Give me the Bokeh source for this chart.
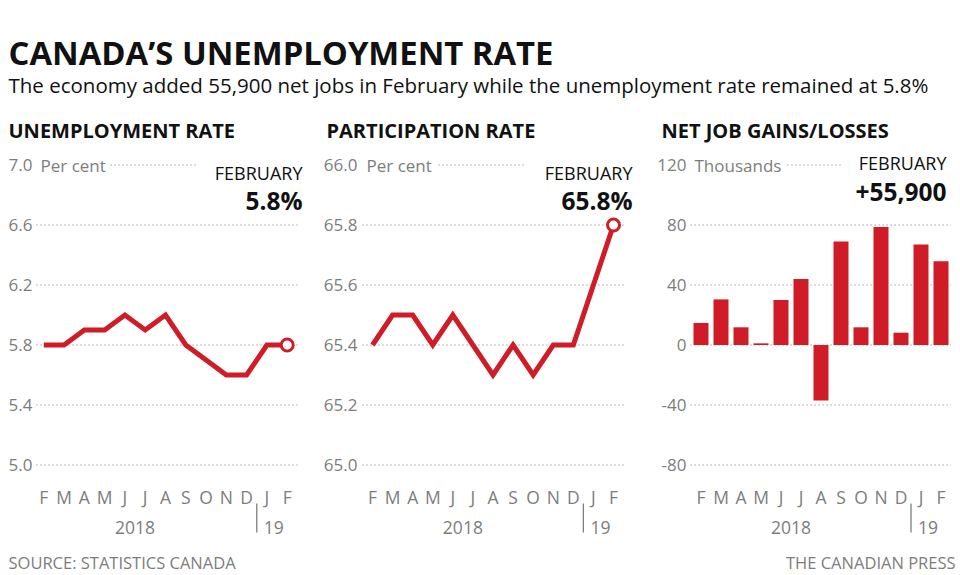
from bokeh.plotting import figure
from bokeh.models import Range1d
from bokeh.core.properties import value
from bokeh.embed import file_html
from bokeh.resources import INLINE

# ---------------- data ----------------
months = ["F", "M", "A", "M", "J", "J", "A", "S", "O", "N", "D", "J", "F"]
unemployment = [5.8, 5.8, 5.9, 5.9, 6.0, 5.9, 6.0, 5.8, 5.7, 5.6, 5.6, 5.8, 5.8]
participation = [65.4, 65.5, 65.5, 65.4, 65.5, 65.4, 65.3, 65.4, 65.3, 65.4, 65.4, 65.6, 65.8]
net_jobs = [14.7, 30.4, 11.8, 1.1, 30.0, 44.0, -37.0, 69.0, 11.8, 78.7, 8.2, 67.0, 55.9]

unemp_ticks = [5.0, 5.4, 5.8, 6.2, 6.6, 7.0]
unemp_labels = ["5.0", "5.4", "5.8", "6.2", "6.6", "7.0"]
part_ticks = [65.0, 65.2, 65.4, 65.6, 65.8, 66.0]
part_labels = ["65.0", "65.2", "65.4", "65.6", "65.8", "66.0"]
jobs_ticks = [-80, -40, 0, 40, 80, 120]
jobs_labels = ["-80", "-40", "0", "40", "80", "120"]

idx = list(range(len(months)))

# ---------------- style ----------------
FONT = value("Open Sans")
RED = "#d01c27"
GRAY_TXT = "#7d7d7d"
GRID = "#a2a2a2"
BLACK = "#111111"
DOTS = "1 3"

W, H = 960, 575
PX0, PY0 = 0, 0  # page offset of the figure (observed)


def lin_range(v_a, px_a, v_b, px_b, px_start, px_end):
    k = (v_b - v_a) / (px_b - px_a)
    return Range1d(start=v_a + (px_start - px_a) * k, end=v_a + (px_end - px_a) * k)


p = figure(width=W, height=H, output_backend="svg", toolbar_location=None,
           x_axis_type=None, y_axis_type=None, min_border=0,
           x_range=Range1d(PX0, PX0 + W), y_range=Range1d(PY0 + H, PY0))
p.outline_line_color = None
p.background_fill_color = "white"
p.border_fill_color = "white"

# header
p.text(x=[8], y=[52], text=["CANADA\u2019S UNEMPLOYMENT RATE"], text_font=FONT,
       text_font_style="bold", text_font_size="32.8px", text_color=BLACK,
       text_baseline="alphabetic", text_align="left")
p.text(x=[8], y=[84], text=["The economy added 55,900 net jobs in February while the unemployment rate remained at 5.8%"],
       text_font=FONT, text_font_size="20.5px", text_color=BLACK,
       text_baseline="alphabetic", text_align="left")
# footer
p.text(x=[8], y=[562], text=["SOURCE: STATISTICS CANADA"], text_font=FONT,
       text_font_size="16.5px", text_color=GRAY_TXT, text_baseline="alphabetic", text_align="left")
p.text(x=[955], y=[562], text=["THE CANADIAN PRESS"], text_font=FONT,
       text_font_size="16.5px", text_color=GRAY_TXT, text_baseline="alphabetic", text_align="right")

panels = [
    dict(name="u", title="UNEMPLOYMENT RATE", title_x=8, vals=unemployment, ticks=unemp_ticks,
         labels=unemp_labels, unit="Per cent", kind="line",
         x_first=43.3, x_last=286.7, v_lo=5.0, v_hi=7.0,
         grid_x=(-0.36, 12.5), label_right=32, unit_left=40, top_line=(110, 195),
         feb_right=302, feb_y=172, big="5.8%", big_y=200),
    dict(name="p", title="PARTICIPATION RATE", title_x=326, vals=participation, ticks=part_ticks,
         labels=part_labels, unit="Per cent", kind="line",
         x_first=372, x_last=613, v_lo=65.0, v_hi=66.0,
         grid_x=(-0.5, 12.6), label_right=357, unit_left=366, top_line=(438, 525),
         feb_right=632, feb_y=172, big="65.8%", big_y=200),
    dict(name="j", title="NET JOB GAINS/LOSSES", title_x=661, vals=net_jobs, ticks=jobs_ticks,
         labels=jobs_labels, unit="Thousands", kind="bar",
         x_first=700.5, x_last=940.5, v_lo=-80, v_hi=120,
         grid_x=(-0.52, 12.5), label_right=686, unit_left=694, top_line=(787, 840),
         feb_right=946, feb_y=162, big="+55,900", big_y=191),
]

for c in panels:
    xn, yn = c["name"] + "x", c["name"] + "y"
    p.extra_x_ranges[xn] = lin_range(0, c["x_first"], len(months) - 1, c["x_last"], PX0, PX0 + W)
    p.extra_y_ranges[yn] = lin_range(c["v_lo"], 464.5, c["v_hi"], 164.5, PY0 + H, PY0)

    # panel title
    p.text(x=[c["title_x"]], y=[130], text=[c["title"]], text_font=FONT, text_font_style="bold",
           text_font_size="20px", text_color=BLACK, text_baseline="alphabetic", text_align="left")

    ticks = c["ticks"]
    # full dotted gridlines
    g0, g1 = c["grid_x"]
    p.segment(x0=[g0] * (len(ticks) - 1), x1=[g1] * (len(ticks) - 1), y0=ticks[:-1], y1=ticks[:-1],
              x_range_name=xn, y_range_name=yn, line_color=GRID, line_width=1.4, line_dash=DOTS)
    # short dotted line for top tick
    p.segment(x0=[c["top_line"][0]], x1=[c["top_line"][1]], y0=ticks[-1:], y1=ticks[-1:],
              y_range_name=yn, line_color=GRID, line_width=1.4, line_dash=DOTS)
    # tick labels
    p.text(x=[c["label_right"]] * len(ticks), y=ticks, text=c["labels"], y_range_name=yn,
           text_font=FONT, text_font_size="17px", text_color=GRAY_TXT,
           text_align="right", text_baseline="middle")
    p.text(x=[c["unit_left"]], y=ticks[-1:], text=[c["unit"]], y_range_name=yn,
           text_font=FONT, text_font_size="17px", text_color=GRAY_TXT,
           text_align="left", text_baseline="middle")

    # data
    if c["kind"] == "line":
        p.line(x=idx, y=c["vals"], x_range_name=xn, y_range_name=yn, line_color=RED,
               line_width=5, line_join="miter")
        p.scatter(x=idx[-1:], y=c["vals"][-1:], x_range_name=xn, y_range_name=yn, size=12,
                  fill_color="white", line_color=RED, line_width=3)
    else:
        p.vbar(x=idx, top=c["vals"], bottom=0, width=0.75, x_range_name=xn, y_range_name=yn,
               fill_color=RED, line_color=None)

    # month labels
    p.text(x=idx, y=[496] * len(idx), text=months, x_range_name=xn, text_font=FONT,
           text_font_size="17.5px", text_color=GRAY_TXT, text_align="center", text_baseline="alphabetic")
    p.text(x=[4.5], y=[527], text=["2018"], x_range_name=xn, text_font=FONT,
           text_font_size="17.5px", text_color=GRAY_TXT, text_align="center", text_baseline="alphabetic")
    p.segment(x0=[10.5], x1=[10.5], y0=[503], y1=[532], x_range_name=xn,
              line_color=GRAY_TXT, line_width=1.3)
    p.text(x=[10.5], y=[527], text=["19"], x_range_name=xn, x_offset=7, text_font=FONT,
           text_font_size="17.5px", text_color=GRAY_TXT, text_align="left", text_baseline="alphabetic")

    # latest-value callout
    p.text(x=[c["feb_right"]], y=[c["feb_y"]], text=["FEBRUARY"], text_font=FONT,
           text_font_size="18px", text_color=BLACK, text_align="right", text_baseline="alphabetic")
    p.text(x=[c["feb_right"]], y=[c["big_y"]], text=[c["big"]], text_font=FONT, text_font_style="bold",
           text_font_size="24.5px", text_color=BLACK, text_align="right", text_baseline="alphabetic")

open("out.html", "w").write(file_html(p, INLINE))
